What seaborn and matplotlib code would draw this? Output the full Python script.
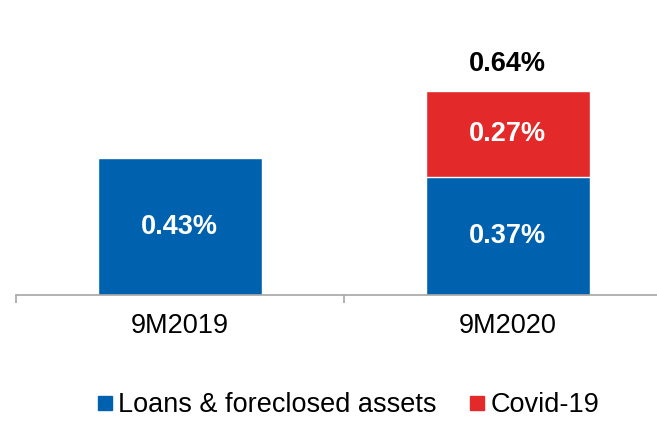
import numpy as np
import pandas as pd
import matplotlib.pyplot as plt
import seaborn as sns
from matplotlib.lines import Line2D

periods = ["9M2019", "9M2020"]
loans = [0.43, 0.37]
covid = [0.00, 0.27]
totals = [round(a + b, 2) for a, b in zip(loans, covid)]

blue = "#0061AF"
red = "#E32929"

sns.set_style("white")
plt.rcParams['font.family'] = ['Liberation Sans', 'DejaVu Sans']

df = pd.DataFrame({"period": periods, "loans": loans, "covid": covid, "total": totals})

fig = plt.figure(figsize=(6.57, 4.21), dpi=100)
ax = fig.add_axes([0.0236, 0.2993, 0.9985, 0.681])

# stacked look: total in red underneath, loans in blue on top
sns.barplot(data=df, x="period", y="total", color=red, width=0.5, saturation=1, ax=ax)
sns.barplot(data=df, x="period", y="loans", color=blue, width=0.5, saturation=1, ax=ax)

ax.set_xlim(-0.5, 1.5)
ax.set_ylim(0, 0.9)

fs = 19.5
for i in range(len(periods)):
    ax.text(i, loans[i] / 2, f"{loans[i]:.2f}%", ha="center", va="center",
            color="white", fontsize=fs, fontweight="bold")
    if covid[i] > 0:
        ax.text(i, loans[i] + covid[i] / 2, f"{covid[i]:.2f}%", ha="center", va="center",
                color="white", fontsize=fs, fontweight="bold")
        ax.text(i, totals[i] + 0.085, f"{totals[i]:.2f}%", ha="center", va="center",
                color="black", fontsize=fs, fontweight="bold")

for side in ["top", "right", "left"]:
    ax.spines[side].set_visible(False)
ax.spines["bottom"].set_color("#A6A6A6")
ax.spines["bottom"].set_linewidth(1.2)
ax.set_yticks([])
ax.set_xlabel("")
ax.set_ylabel("")
ax.set_xticks([0, 1])
ax.set_xticklabels(periods, fontsize=fs, color="black")
ax.tick_params(axis="x", which="major", bottom=True, length=0, pad=13)
ax.set_xticks([-0.5, 0.5, 1.5], minor=True)
ax.tick_params(axis="x", which="minor", bottom=True, length=6, width=1.2,
               color="#A6A6A6", direction="out")

handles = [Line2D([], [], marker="s", linestyle="", color=blue, markersize=9.5),
           Line2D([], [], marker="s", linestyle="", color=red, markersize=9.5)]
fig.legend(handles, ["Loans & foreclosed assets", "Covid-19"], loc="center",
           bbox_to_anchor=(0.53, 0.037), ncol=2, frameon=False, fontsize=fs,
           handletextpad=0.2, columnspacing=1.2, handlelength=0.6,
           labelcolor="black")

fig.savefig("out.png", dpi=100)
